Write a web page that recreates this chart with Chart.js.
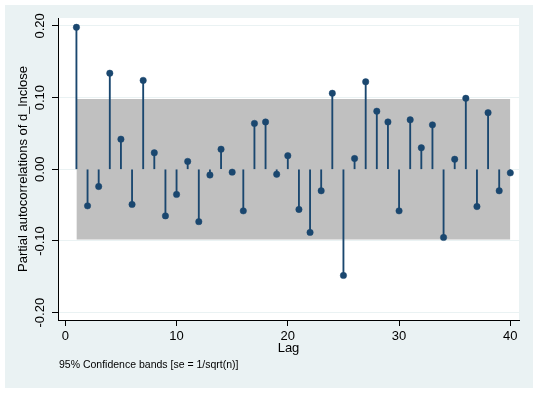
<!DOCTYPE html>
<html>
<head>
<meta charset="utf-8">
<script src="https://cdn.jsdelivr.net/npm/chart.js@4/dist/chart.umd.min.js"></script>
<style>
  html, body { margin: 0; padding: 0; background: #fff; }
  canvas { display: block; }
</style>
</head>
<body>
<canvas id="pacf" width="537" height="393"></canvas>
<script>
"use strict";

// PACF of d_lnclose, lags 1..40
const lags = [
   1,  2,  3,  4,  5,  6,  7,  8,  9, 10,
  11, 12, 13, 14, 15, 16, 17, 18, 19, 20,
  21, 22, 23, 24, 25, 26, 27, 28, 29, 30,
  31, 32, 33, 34, 35, 36, 37, 38, 39, 40,
];
const pacf = [
   0.198, -0.051, -0.024,  0.134,  0.042, -0.049,  0.124,  0.023, -0.065, -0.035,
   0.011, -0.073, -0.008,  0.028, -0.004, -0.058,  0.064,  0.066, -0.007,  0.019,
  -0.056, -0.088, -0.030,  0.106, -0.148,  0.015,  0.122,  0.081,  0.066, -0.058,
   0.069,  0.030,  0.062, -0.095,  0.014,  0.099, -0.052,  0.079, -0.030, -0.005,
];
// 95% band, se = 1/sqrt(n)
const bandLags = [1, 40];
const bandHalf = 0.098;

const xTicks = [0, 10, 20, 30, 40];
const yTicks = [-0.2, -0.1, 0, 0.1, 0.2];

const NAVY = "#1a476f";
const LTBLUE = "#eaf2f3";
const FONT = "'Liberation Sans', Arial, sans-serif";

const stataBg = {
  id: "stataBg",
  beforeDraw(chart) {
    const { ctx, chartArea: a } = chart;
    ctx.save();
    ctx.fillStyle = "#fff";
    ctx.fillRect(0, 0, chart.width, chart.height);
    ctx.fillStyle = LTBLUE;
    ctx.fillRect(5, 5, 528, 383);
    ctx.fillStyle = "#fff";
    ctx.fillRect(a.left, a.top, a.right - a.left, a.bottom - a.top);
    ctx.restore();
  },
  afterDraw(chart) {
    const { ctx } = chart;
    ctx.save();
    ctx.fillStyle = "#000";
    ctx.font = "10.5px " + FONT;
    ctx.textBaseline = "middle";
    ctx.textAlign = "left";
    ctx.fillText("95% Confidence bands [se = 1/sqrt(n)]", 59, 365);
    ctx.restore();
  },
};

new Chart(document.getElementById("pacf"), {
  type: "bar",
  data: {
    datasets: [
      { type: "line", order: 3, data: bandLags.map((l) => ({ x: l, y: bandHalf })),
        borderWidth: 0, pointRadius: 0, backgroundColor: "#c0c0c0", fill: "+1" },
      { type: "line", order: 3, data: bandLags.map((l) => ({ x: l, y: -bandHalf })),
        borderWidth: 0, pointRadius: 0, fill: false },
      { type: "bar", order: 2, data: lags.map((l, i) => ({ x: l, y: pacf[i] })),
        backgroundColor: NAVY, barThickness: 1.2, grouped: false },
      { type: "line", order: 1, data: lags.map((l, i) => ({ x: l, y: pacf[i] })),
        showLine: false, pointRadius: 3.2, pointBorderWidth: 0.5,
        pointBackgroundColor: NAVY, pointBorderColor: NAVY },
    ],
  },
  options: {
    responsive: false,
    animation: false,
    events: [],
    layout: { padding: { left: 5, top: 18, right: 18, bottom: 37 } },
    plugins: { legend: { display: false }, tooltip: { enabled: false } },
    scales: {
      x: {
        type: "linear", offset: false, min: -0.656, max: 40.78,
        afterBuildTicks: (s) => { s.ticks = xTicks.map((v) => ({ value: v })); },
        afterFit: (s) => { s.height = 36; },
        grid: { offset: false, drawOnChartArea: false, tickColor: "#000",
                tickLength: 6, tickWidth: 1 },
        border: { color: "#000", width: 1 },
        ticks: { color: "#000", font: { family: FONT, size: 13 }, padding: 3,
                 maxRotation: 0, callback: (v) => String(v) },
        title: { display: true, text: "Lag", color: "#000",
                 font: { family: FONT, size: 13, lineHeight: 1.2 }, padding: 0 },
      },
      y: {
        type: "linear", min: -0.2102, max: 0.211,
        afterBuildTicks: (s) => { s.ticks = yTicks.map((v) => ({ value: v })); },
        afterFit: (s) => { s.width = 53; },
        grid: { color: LTBLUE, lineWidth: 1, tickColor: "#000", tickLength: 6, tickWidth: 1 },
        border: { color: "#000", width: 1 },
        ticks: { color: "#000", font: { family: FONT, size: 13 }, padding: -3,
                 minRotation: 90, maxRotation: 90, crossAlign: "center",
                 callback: (v) => v.toFixed(2) },
        title: { display: true, text: "Partial autocorrelations of d_lnclose", color: "#000",
                 font: { family: FONT, size: 13, lineHeight: 1.2 }, padding: { top: 11 } },
      },
    },
  },
  plugins: [stataBg],
});
</script>
</body>
</html>
